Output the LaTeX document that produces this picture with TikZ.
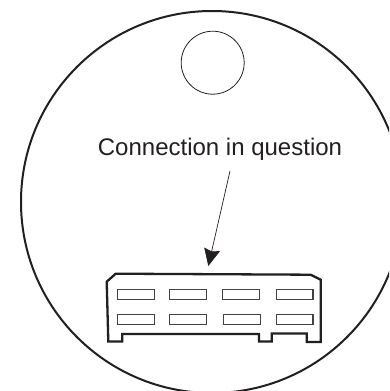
\documentclass[tikz,border=0pt]{standalone}
\usepackage{fontspec}
\setmainfont{Liberation Sans}
\usetikzlibrary{arrows.meta}
\definecolor{ink}{RGB}{35,31,32}
\tikzset{
  outer/.style={draw=ink,line width=2pt},
  hole/.style={draw=ink,line width=0.8pt},
  housing/.style={draw=ink,line width=2.3pt,line join=miter},
  slot/.style={draw=ink!85,line width=1.2pt},
  pointer/.style={draw=ink,line width=0.7pt,-{Stealth[length=17pt,width=16pt,inset=2pt]}},
  caption/.style={font=\fontsize{24}{28}\selectfont,text=ink,inner sep=0pt,anchor=base}
}
\begin{document}
\begin{tikzpicture}[x=1pt,y=-1pt]
\useasboundingbox (0,0) rectangle (389,391);
\fill[white] (0,0) rectangle (389,391);
\begin{scope}
\clip (0,0) rectangle (389,391);
\draw[outer] (212,202) circle[radius=191];
\end{scope}
\draw[hole] (212.7,62.7) circle[radius=31.5];
\node[caption] (label) at (220,155) {Connection in question};
\coordinate (from) at (230,171);
\coordinate (to) at (208.3,266);
\draw[pointer] (from) -- (to);
\draw[housing] (106.7,281.7) -- (115.7,273.7) -- (310.7,274.7) -- (320.7,279.7) -- (320.7,342) -- (306.7,342) -- (306.7,333.5) -- (271.7,333.5) -- (271.7,341.5) -- (259,341.5) -- (259,334) -- (122.3,334) -- (122.3,341.5) -- (108.3,341.5) -- cycle;
\draw[slot] (117.7,289.7) rectangle (154.3,299.7);
\draw[slot] (169.7,289.7) rectangle (206.7,299.7);
\draw[slot] (222.7,289.7) rectangle (259.7,299.7);
\draw[slot] (276.3,289.7) rectangle (313,299.7);
\draw[slot] (117.7,314.3) rectangle (154.3,324.3);
\draw[slot] (169.7,314.3) rectangle (206.7,324.3);
\draw[slot] (223.3,314.3) rectangle (260.3,324.3);
\draw[slot] (276.3,314.3) rectangle (313,324.3);
\end{tikzpicture}
\end{document}
